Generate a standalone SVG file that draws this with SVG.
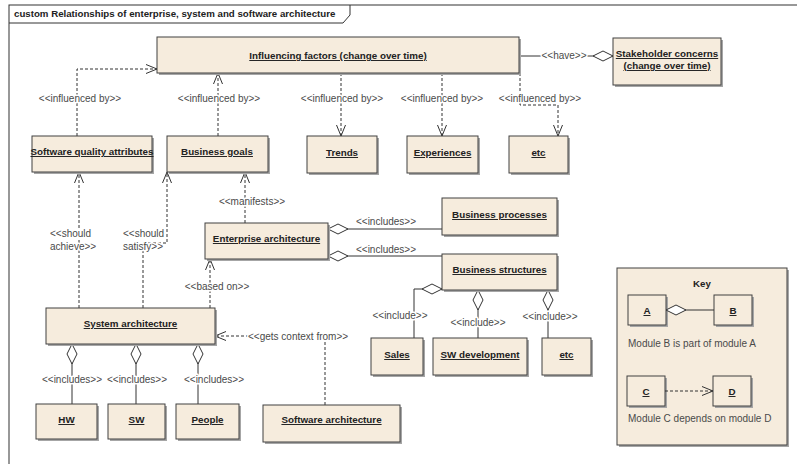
<svg xmlns="http://www.w3.org/2000/svg" width="797" height="464" viewBox="0 0 797 464">
  <style>
    .box { fill: #f6ecdd; stroke: #404040; stroke-width: 1; }
    .shadow { fill: #a6a6a6; }
    .name { font-family: "Liberation Sans", Arial, sans-serif; font-size: 9.8px; font-weight: bold; fill: #222; text-anchor: middle; text-decoration: underline; }
    .lbl { font-family: "Liberation Sans", Arial, sans-serif; font-size: 10px; fill: #4a4a4a; paint-order: stroke; stroke: #fff; stroke-width: 3px; stroke-linejoin: round; }
    .mid { text-anchor: middle; }
    .dep { fill: none; stroke: #333; stroke-width: 1; stroke-dasharray: 3 2; marker-end: url(#open); }
    .agg { fill: none; stroke: #333; stroke-width: 1; marker-start: url(#diamond); }
    .title { font-family: "Liberation Sans", Arial, sans-serif; font-size: 9.7px; font-weight: bold; fill: #222; }
    .plain { font-family: "Liberation Sans", Arial, sans-serif; font-size: 10px; fill: #4a4a4a; }
  </style>
  <defs>
    <marker id="open" markerUnits="userSpaceOnUse" markerWidth="14" markerHeight="12" refX="12" refY="6" orient="auto">
      <path d="M1,1.5 L12,6 L1,10.5" fill="none" stroke="#333" stroke-width="1" stroke-dasharray="none"/>
    </marker>
    <marker id="diamond" markerUnits="userSpaceOnUse" markerWidth="22" markerHeight="12" refX="0" refY="6" orient="auto">
      <path d="M0,6 L10,1 L20,6 L10,11 Z" fill="#fff" stroke="#333" stroke-width="1"/>
    </marker>
  </defs>

  <rect width="797" height="464" fill="#fff"/>

  <!-- frame with title tab -->
  <g id="frame">
    <rect x="9" y="5" width="800" height="470" fill="none" stroke="#333" stroke-width="1"/>
    <path d="M9,23 H343 L350,15 V5" fill="none" stroke="#333" stroke-width="1"/>
    <text class="title" x="14" y="17">custom Relationships of enterprise, system and software architecture</text>
  </g>

  <!-- connectors -->
  <g id="connectors">
    <path class="dep" d="M77,136 V69 H157"/>
    <path class="dep" d="M218,136 V73"/>
    <path class="dep" d="M341,73 V136"/>
    <path class="dep" d="M442,73 V136"/>
    <path class="dep" d="M520,73 V105 H558 V136"/>
    <path class="agg" d="M613,56 H519"/>
    <path class="dep" d="M245,223 V172"/>
    <path class="agg" d="M328,229 H442"/>
    <path class="agg" d="M328,256 H442"/>
    <path class="dep" d="M79,308 V172"/>
    <path class="dep" d="M143,308 V243 H167 V172"/>
    <path class="dep" d="M210,308 V259"/>
    <path class="dep" d="M325,405 V336 H215"/>
    <path class="agg" d="M72,344 V404"/>
    <path class="agg" d="M136,344 V404"/>
    <path class="agg" d="M198,344 V404"/>
    <path class="agg" d="M442,289 H414 V338"/>
    <path class="agg" d="M478,290 V338"/>
    <path class="agg" d="M548,290 V338"/>

    <text class="lbl mid" x="80" y="102">&lt;&lt;influenced by&gt;&gt;</text>
    <text class="lbl mid" x="219" y="102">&lt;&lt;influenced by&gt;&gt;</text>
    <text class="lbl mid" x="342" y="102">&lt;&lt;influenced by&gt;&gt;</text>
    <text class="lbl mid" x="442" y="102">&lt;&lt;influenced by&gt;&gt;</text>
    <text class="lbl mid" x="540" y="102">&lt;&lt;influenced by&gt;&gt;</text>
    <text class="lbl mid" x="564" y="59">&lt;&lt;have&gt;&gt;</text>
    <text class="lbl mid" x="252" y="205">&lt;&lt;manifests&gt;&gt;</text>
    <text class="lbl mid" x="386" y="225">&lt;&lt;includes&gt;&gt;</text>
    <text class="lbl mid" x="386" y="253">&lt;&lt;includes&gt;&gt;</text>
    <text class="lbl" x="50" y="237">&lt;&lt;should</text>
    <text class="lbl" x="50" y="250">achieve&gt;&gt;</text>
    <text class="lbl" x="123" y="237">&lt;&lt;should</text>
    <text class="lbl" x="123" y="250">satisfy&gt;&gt;</text>
    <text class="lbl mid" x="217" y="290">&lt;&lt;based on&gt;&gt;</text>
    <text class="lbl" x="248" y="340">&lt;&lt;gets context from&gt;&gt;</text>
    <text class="lbl mid" x="72" y="383">&lt;&lt;includes&gt;&gt;</text>
    <text class="lbl mid" x="137" y="383">&lt;&lt;includes&gt;&gt;</text>
    <text class="lbl mid" x="214" y="383">&lt;&lt;includes&gt;&gt;</text>
    <text class="lbl mid" x="400" y="319">&lt;&lt;include&gt;&gt;</text>
    <text class="lbl mid" x="478" y="326">&lt;&lt;include&gt;&gt;</text>
    <text class="lbl mid" x="550" y="320">&lt;&lt;include&gt;&gt;</text>
  </g>

  <!-- nodes -->
  <g id="influencing-factors">
    <rect class="shadow" x="159" y="39" width="362" height="36"/>
    <rect class="box" x="157" y="37" width="362" height="36"/>
    <text class="name" x="338" y="59">Influencing factors (change over time)</text>
  </g>
  <g id="stakeholder-concerns">
    <rect class="shadow" x="615" y="40" width="108" height="47"/>
    <rect class="box" x="613" y="38" width="108" height="47"/>
    <text class="name" x="667" y="57">Stakeholder concerns</text>
    <text class="name" x="667" y="69">(change over time)</text>
  </g>
  <g id="software-quality-attributes">
    <rect class="shadow" x="34" y="138" width="120" height="36"/>
    <rect class="box" x="32" y="136" width="120" height="36"/>
    <text class="name" x="92" y="155">Software quality attributes</text>
  </g>
  <g id="business-goals">
    <rect class="shadow" x="169" y="138" width="101" height="36"/>
    <rect class="box" x="167" y="136" width="101" height="36"/>
    <text class="name" x="217" y="155">Business goals</text>
  </g>
  <g id="trends">
    <rect class="shadow" x="309" y="138" width="70" height="37"/>
    <rect class="box" x="307" y="136" width="70" height="37"/>
    <text class="name" x="342" y="156">Trends</text>
  </g>
  <g id="experiences">
    <rect class="shadow" x="409" y="138" width="71" height="37"/>
    <rect class="box" x="407" y="136" width="71" height="37"/>
    <text class="name" x="442.5" y="156">Experiences</text>
  </g>
  <g id="etc-factors">
    <rect class="shadow" x="511" y="138" width="59" height="37"/>
    <rect class="box" x="509" y="136" width="59" height="37"/>
    <text class="name" x="538.5" y="156">etc</text>
  </g>
  <g id="enterprise-architecture">
    <rect class="shadow" x="207" y="225" width="123" height="36"/>
    <rect class="box" x="205" y="223" width="123" height="36"/>
    <text class="name" x="266.5" y="242">Enterprise architecture</text>
  </g>
  <g id="business-processes">
    <rect class="shadow" x="444" y="200" width="115" height="37"/>
    <rect class="box" x="442" y="198" width="115" height="37"/>
    <text class="name" x="499.5" y="218">Business processes</text>
  </g>
  <g id="business-structures">
    <rect class="shadow" x="444" y="256" width="115" height="36"/>
    <rect class="box" x="442" y="254" width="115" height="36"/>
    <text class="name" x="499.5" y="273">Business structures</text>
  </g>
  <g id="system-architecture">
    <rect class="shadow" x="48" y="310" width="169" height="36"/>
    <rect class="box" x="46" y="308" width="169" height="36"/>
    <text class="name" x="130.5" y="327">System architecture</text>
  </g>
  <g id="hw">
    <rect class="shadow" x="38" y="406" width="61" height="35"/>
    <rect class="box" x="36" y="404" width="61" height="35"/>
    <text class="name" x="66.5" y="423">HW</text>
  </g>
  <g id="sw">
    <rect class="shadow" x="110" y="406" width="57" height="35"/>
    <rect class="box" x="108" y="404" width="57" height="35"/>
    <text class="name" x="136.5" y="423">SW</text>
  </g>
  <g id="people">
    <rect class="shadow" x="178" y="406" width="63" height="35"/>
    <rect class="box" x="176" y="404" width="63" height="35"/>
    <text class="name" x="207.5" y="423">People</text>
  </g>
  <g id="software-architecture">
    <rect class="shadow" x="265" y="407" width="137" height="37"/>
    <rect class="box" x="263" y="405" width="137" height="37"/>
    <text class="name" x="331.5" y="423">Software architecture</text>
  </g>
  <g id="sales">
    <rect class="shadow" x="373" y="340" width="52" height="37"/>
    <rect class="box" x="371" y="338" width="52" height="37"/>
    <text class="name" x="397" y="358">Sales</text>
  </g>
  <g id="sw-development">
    <rect class="shadow" x="435" y="340" width="94" height="37"/>
    <rect class="box" x="433" y="338" width="94" height="37"/>
    <text class="name" x="480" y="358">SW development</text>
  </g>
  <g id="etc-structures">
    <rect class="shadow" x="544" y="340" width="49" height="37"/>
    <rect class="box" x="542" y="338" width="49" height="37"/>
    <text class="name" x="566.5" y="358">etc</text>
  </g>

  <!-- legend -->
  <g id="key">
    <rect class="shadow" x="619" y="270" width="170" height="177"/>
    <rect class="box" x="617" y="268" width="170" height="177"/>
    <text class="title" x="702" y="287" text-anchor="middle">Key</text>
    <rect class="shadow" x="630" y="297" width="38" height="30"/>
    <rect class="box" x="628" y="295" width="38" height="30"/>
    <text class="name" x="647" y="314">A</text>
    <rect class="shadow" x="716" y="297" width="38" height="30"/>
    <rect class="box" x="714" y="295" width="38" height="30"/>
    <text class="name" x="733" y="314">B</text>
    <path class="agg" d="M666,310 H714"/>
    <text class="plain" x="628" y="347">Module B is part of module A</text>
    <rect class="shadow" x="629" y="378" width="38" height="30"/>
    <rect class="box" x="627" y="376" width="38" height="30"/>
    <text class="name" x="646" y="395">C</text>
    <rect class="shadow" x="715" y="378" width="38" height="30"/>
    <rect class="box" x="713" y="376" width="38" height="30"/>
    <text class="name" x="732" y="395">D</text>
    <path class="dep" d="M665,391 H713"/>
    <text class="plain" x="628" y="422">Module C depends on module D</text>
  </g>
</svg>
